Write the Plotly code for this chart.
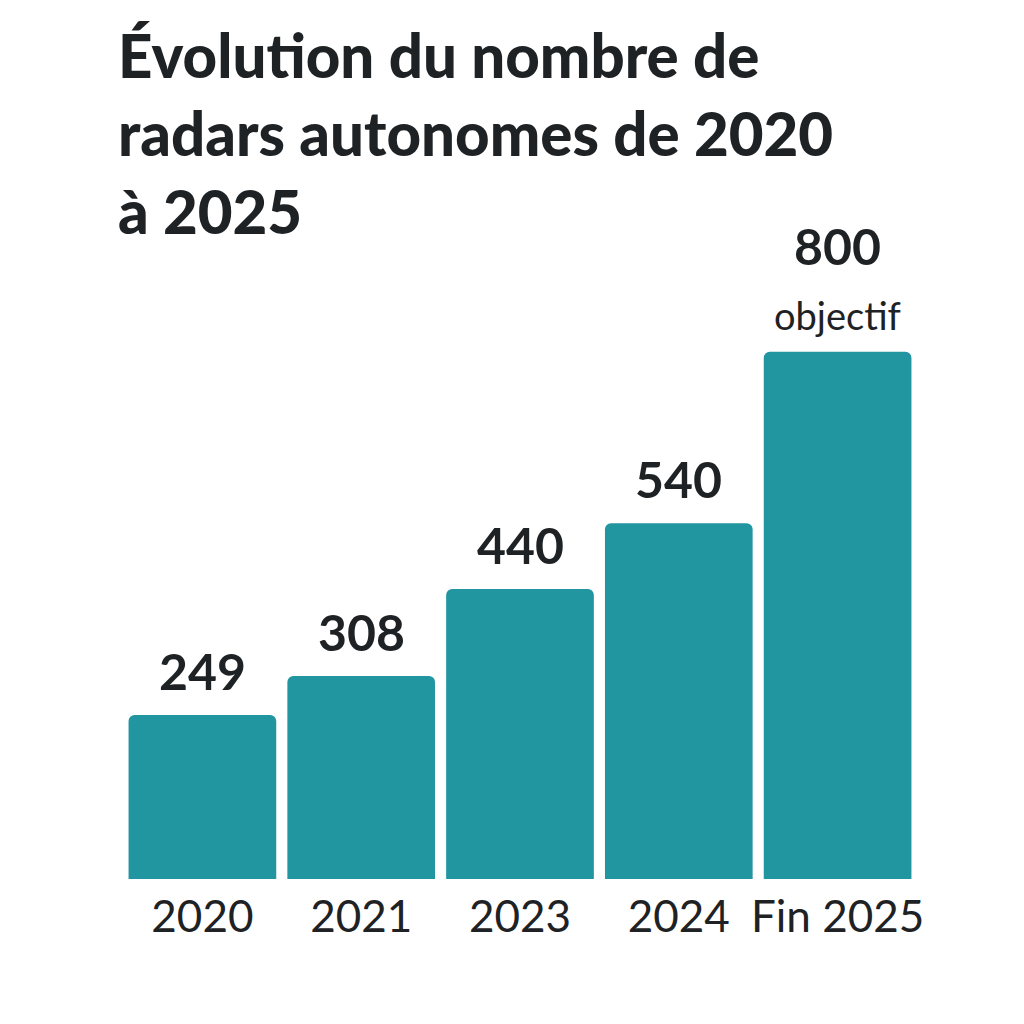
import plotly.graph_objects as go

categories = ["2020", "2021", "2023", "2024", "Fin 2025"]
values = [249, 308, 440, 540, 800]
value_labels = ["249", "308", "440", "540", "800"]
sub_labels = ["", "", "", "", "objectif"]

title_text = "Évolution du nombre de<br>radars autonomes de 2020<br>à 2025"

BAR = "#2196A0"
INK = "#1E2224"

positions = list(range(len(categories)))

fig = go.Figure(
    go.Bar(
        x=positions,
        y=values,
        marker=dict(color=BAR, cornerradius=6, line=dict(width=0)),
        hoverinfo="skip",
    )
)

for pos, val, lab, sub in zip(positions, values, value_labels, sub_labels):
    txt = f"<b>{lab}</b>"
    if sub:
        txt += f"<br><span style='font-size:38px;font-weight:normal'>{sub}</span>"
    fig.add_annotation(
        x=pos, y=val, text=txt, showarrow=False,
        yanchor="bottom", yshift=12,
        font=dict(family="Lato", size=50, color=INK),
    )

fig.update_layout(
    width=1024, height=1024,
    paper_bgcolor="white", plot_bgcolor="white",
    margin=dict(l=115, r=115, t=243, b=153),
    bargap=0.07,
    showlegend=False,
    title=dict(
        text=title_text,
        x=110 / 1024, xref="container", xanchor="left",
        y=1 - 70 / 1024, yref="container", yanchor="top",
        font=dict(family="Lato", size=60, color=INK, weight=900),
    ),
    xaxis=dict(
        range=[-0.5, len(categories) - 0.5],
        tickmode="array", tickvals=positions, ticktext=categories,
        showgrid=False, zeroline=False, showline=False, ticks="",
        ticklabelstandoff=8,
        tickfont=dict(family="Lato", size=44, color=INK),
    ),
    yaxis=dict(
        visible=False, range=[0, 953], showgrid=False, zeroline=False,
    ),
)

fig.write_html("out.html")
